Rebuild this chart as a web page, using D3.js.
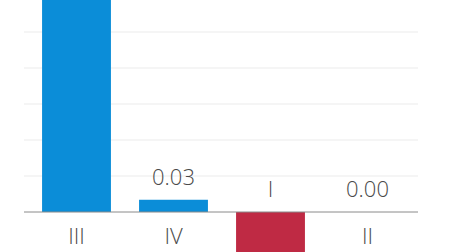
<!DOCTYPE html>
<html>
<head>
<meta charset="utf-8">
<script src="https://cdn.jsdelivr.net/npm/d3@7"></script>
<style>
  html, body { margin: 0; padding: 0; background: #fff; }
  svg { display: block; }
</style>
</head>
<body>
<div id="chart"></div>
<script>
// data ---------------------------------------------------------------
const categories = ['III', 'IV', 'I', 'II'];
const values = [0.75, 0.034, -0.15, 0.0];
const valueLabels = ['', '0.03', '', '0.00'];
const gridTicks = [0.1, 0.2, 0.3, 0.4, 0.5];
const yDomain = [-0.1111, 0.5889];

// size ---------------------------------------------------------------
const width = 449;
const height = 252;
const plotLeft = 24, plotRight = 418;

const svg = d3.select('#chart').append('svg')
  .attr('width', width)
  .attr('height', height);

// scales -------------------------------------------------------------
const xScale = d3.scaleBand()
  .domain(categories)
  .range([28, 416])
  .paddingInner(0.29)
  .paddingOuter(0.145);
const yScale = d3.scaleLinear()
  .domain(yDomain)
  .range([height, 0]);

// grid lines
svg.append('g')
  .selectAll('line')
  .data(gridTicks)
  .enter()
  .append('line')
  .attr('x1', plotLeft)
  .attr('x2', plotRight)
  .attr('y1', d => yScale(d))
  .attr('y2', d => yScale(d))
  .attr('stroke', '#f2f2f2')
  .attr('stroke-width', 1.5);

// bars
svg.append('g')
  .selectAll('rect')
  .data(values)
  .enter()
  .append('rect')
  .attr('x', (d, i) => xScale(categories[i]))
  .attr('width', xScale.bandwidth())
  .attr('y', d => yScale(Math.max(0, d)))
  .attr('height', d => Math.abs(yScale(d) - yScale(0)))
  .attr('fill', d => d < 0 ? '#bf2a44' : '#0b8dd8');

// zero axis
svg.append('line')
  .attr('x1', plotLeft)
  .attr('x2', plotRight)
  .attr('y1', yScale(0))
  .attr('y2', yScale(0))
  .attr('stroke', '#8a8a8a')
  .attr('stroke-width', 1);

const font = "'Open Sans', 'DejaVu Sans', sans-serif";

// value labels
svg.append('g')
  .selectAll('text')
  .data(values)
  .enter()
  .append('text')
  .attr('x', (d, i) => xScale(categories[i]) + xScale.bandwidth() / 2)
  .attr('y', d => yScale(Math.max(0, d)) - 15)
  .attr('text-anchor', 'middle')
  .attr('font-family', font)
  .attr('font-weight', 300)
  .attr('font-size', '22px')
  .attr('fill', '#4a4a4a')
  .text((d, i) => valueLabels[i]);

// category labels (above the axis for negative bars)
svg.append('g')
  .selectAll('text')
  .data(values)
  .enter()
  .append('text')
  .attr('x', (d, i) => xScale(categories[i]) + xScale.bandwidth() / 2)
  .attr('y', d => d < 0 ? yScale(0) - 15 : yScale(0) + 32)
  .attr('text-anchor', 'middle')
  .attr('font-family', font)
  .attr('font-weight', 300)
  .attr('font-size', '22px')
  .attr('fill', '#4a4a4a')
  .text((d, i) => categories[i]);
</script>
</body>
</html>
